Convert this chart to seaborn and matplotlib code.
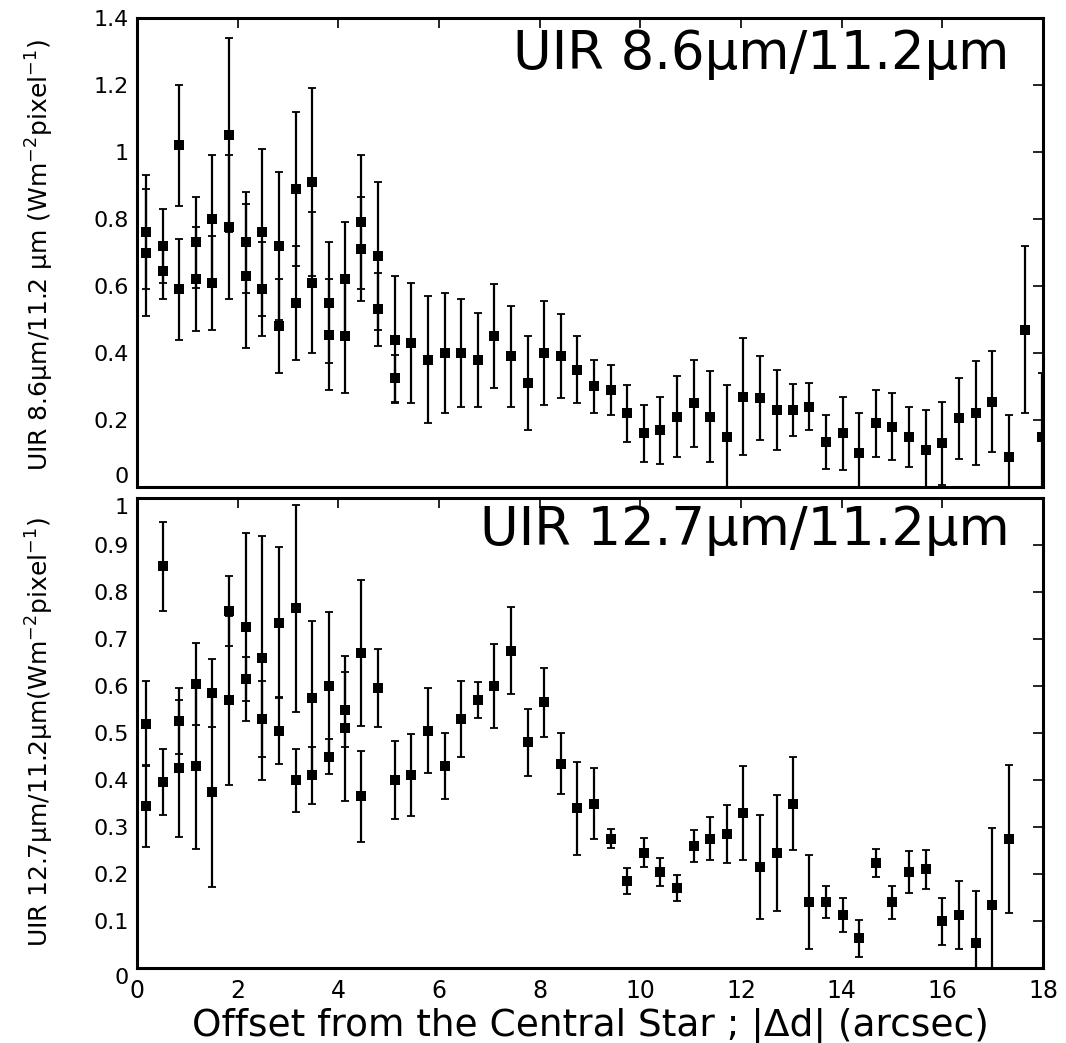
import matplotlib
matplotlib.use("Agg")
import matplotlib.pyplot as plt
import seaborn as sns
import pandas as pd

# Radial offsets from the central star (arcsec)
offsets = [0.18, 0.51, 0.84, 1.17, 1.50, 1.83, 2.16, 2.49, 2.82, 3.15,
           3.48, 3.81, 4.14, 4.46, 4.79, 5.12, 5.45, 5.78, 6.11, 6.44,
           6.77, 7.10, 7.43, 7.76, 8.09, 8.42, 8.75, 9.08, 9.41, 9.74,
           10.07, 10.40, 10.73, 11.06, 11.39, 11.72, 12.05, 12.38, 12.71, 13.03,
           13.36, 13.69, 14.02, 14.35, 14.68, 15.01, 15.34, 15.67, 16.00, 16.33,
           16.66, 16.99, 17.32, 17.65, 17.98]

# UIR 8.6/11.2 ratio, first side (all offsets)
r86_a = [0.76, 0.72, 1.02, 0.73, 0.80, 1.05, 0.73, 0.76, 0.72, 0.89,
         0.91, 0.55, 0.62, 0.79, 0.69, 0.44, 0.43, 0.38, 0.40, 0.40,
         0.38, 0.45, 0.39, 0.31, 0.40, 0.39, 0.35, 0.30, 0.29, 0.22,
         0.16, 0.17, 0.21, 0.25, 0.21, 0.15, 0.27, 0.265, 0.23, 0.23,
         0.24, 0.135, 0.16, 0.10, 0.19, 0.18, 0.15, 0.11, 0.13, 0.205,
         0.22, 0.255, 0.09, 0.47, 0.15]
e86_a = [0.17, 0.11, 0.18, 0.135, 0.19, 0.29, 0.15, 0.25, 0.22, 0.23,
         0.28, 0.18, 0.17, 0.20, 0.22, 0.19, 0.18, 0.19, 0.18, 0.16,
         0.14, 0.155, 0.15, 0.14, 0.155, 0.125, 0.10, 0.08, 0.075, 0.085,
         0.085, 0.10, 0.12, 0.13, 0.135, 0.155, 0.175, 0.125, 0.12, 0.077,
         0.07, 0.08, 0.11, 0.12, 0.10, 0.10, 0.09, 0.12, 0.125, 0.12,
         0.155, 0.15, 0.125, 0.25, 0.19]

# UIR 8.6/11.2 ratio, opposite side (inner offsets only)
r86_b = [0.70, 0.645, 0.59, 0.62, 0.61, 0.775, 0.63, 0.59, 0.48, 0.55,
         0.61, 0.455, 0.45, 0.71, 0.53, 0.325]
e86_b = [0.19, 0.085, 0.15, 0.155, 0.14, 0.215, 0.215, 0.14, 0.14, 0.17,
         0.21, 0.165, 0.17, 0.155, 0.11, 0.07]

# UIR 12.7/11.2 ratio, first side
r127_a = [0.52, 0.855, 0.525, 0.605, 0.585, 0.76, 0.725, 0.66, 0.735, 0.765,
          0.575, 0.60, 0.55, 0.67, 0.595, 0.40, 0.41, 0.505, 0.43, 0.53,
          0.57, 0.60, 0.675, 0.48, 0.565, 0.435, 0.34, 0.35, 0.275, 0.185,
          0.245, 0.205, 0.17, 0.26, 0.275, 0.285, 0.33, 0.215, 0.245, 0.35,
          0.14, 0.14, 0.113, 0.063, 0.223, 0.14, 0.205, 0.21, 0.10, 0.113,
          0.053, 0.135, 0.275]
e127_a = [0.09, 0.095, 0.07, 0.087, 0.073, 0.074, 0.20, 0.26, 0.16, 0.22,
          0.164, 0.157, 0.08, 0.156, 0.083, 0.082, 0.087, 0.09, 0.07, 0.08,
          0.038, 0.09, 0.093, 0.071, 0.073, 0.065, 0.099, 0.075, 0.02, 0.028,
          0.031, 0.03, 0.028, 0.034, 0.046, 0.062, 0.10, 0.11, 0.123, 0.098,
          0.10, 0.034, 0.037, 0.039, 0.03, 0.035, 0.045, 0.042, 0.05, 0.073,
          0.11, 0.162, 0.157]

# UIR 12.7/11.2 ratio, opposite side
r127_b = [0.345, 0.395, 0.425, 0.43, 0.375, 0.57, 0.615, 0.53, 0.505, 0.40,
          0.41, 0.45, 0.51, 0.365]
e127_b = [0.088, 0.07, 0.146, 0.177, 0.203, 0.18, 0.046, 0.08, 0.071, 0.067,
          0.06, 0.037, 0.154, 0.096]

yticks_86 = [0, 0.2, 0.4, 0.6, 0.8, 1.0, 1.2, 1.4]
ylabels_86 = ["0", "0.2", "0.4", "0.6", "0.8", "1", "1.2", "1.4"]
yticks_127 = [0, 0.1, 0.2, 0.3, 0.4, 0.5, 0.6, 0.7, 0.8, 0.9, 1.0]
ylabels_127 = ["0", "0.1", "0.2", "0.3", "0.4", "0.5", "0.6", "0.7", "0.8", "0.9", "1"]
xticks = [0, 2, 4, 6, 8, 10, 12, 14, 16, 18]


def build_frame(vals_a, errs_a, vals_b, errs_b):
    a = pd.DataFrame({"offset": offsets[:len(vals_a)], "ratio": vals_a,
                      "err": errs_a, "side": "a"})
    b = pd.DataFrame({"offset": offsets[:len(vals_b)], "ratio": vals_b,
                      "err": errs_b, "side": "b"})
    return pd.concat([a, b], ignore_index=True)


df86 = build_frame(r86_a, e86_a, r86_b, e86_b)
df127 = build_frame(r127_a, e127_a, r127_b, e127_b)

sns.set_theme(style="white")
plt.rcParams["font.family"] = ["DejaVu Sans"]
plt.rcParams["mathtext.fontset"] = "dejavusans"
plt.rcParams["mathtext.default"] = "regular"

fig = plt.figure(figsize=(10.66, 10.43), dpi=100)
ax_top = fig.add_axes([0.1285, 0.5331, 0.8499, 0.4496])
ax_bot = fig.add_axes([0.1285, 0.0719, 0.8499, 0.4506])


def draw_panel(ax, df, ymax, yticks, ylabels, title, ylabel, pos):
    ax.errorbar(df["offset"], df["ratio"], yerr=df["err"], fmt="none",
                ecolor="black", elinewidth=1.6, capsize=3.2, capthick=1.3,
                zorder=2)
    sns.scatterplot(data=df, x="offset", y="ratio", marker="s", color="black",
                    s=42, linewidth=0, legend=False, ax=ax, zorder=3)
    ax.set_xlim(0, 18)
    ax.set_ylim(0, ymax)
    ax.set_xticks(xticks)
    ax.set_yticks(yticks)
    ax.set_yticklabels(ylabels)
    ax.set_xlabel("")
    ax.set_ylabel("")
    for sp in ax.spines.values():
        sp.set_visible(True)
        sp.set_linewidth(2.2)
        sp.set_color("black")
    ax.tick_params(direction="in", top=True, right=True, length=7, width=1.2,
                   color="black", labelcolor="black")
    ax.tick_params(axis="y", labelsize=16, pad=6)
    ax.tick_params(axis="x", labelsize=17, pad=8)
    ax.text(0.963, pos[0], title, transform=ax.transAxes, ha="right",
            va="center", fontsize=38, color="black")
    fig.text(40 / 1066, pos[1], ylabel, rotation=90, ha="center",
             va="center", fontsize=18, color="black")


draw_panel(ax_top, df86, 1.4, yticks_86, ylabels_86,
           "UIR 8.6\u03bcm/11.2\u03bcm",
           "UIR 8.6\u03bcm/11.2 \u03bcm (Wm$^{-2}$pixel$^{-1}$)", (0.923, 0.7555))
draw_panel(ax_bot, df127, 1.0, yticks_127, ylabels_127,
           "UIR 12.7\u03bcm/11.2\u03bcm",
           "UIR 12.7\u03bcm/11.2\u03bcm(Wm$^{-2}$pixel$^{-1}$)", (0.932, 0.298))

# keep the adjoining "0" and "1" labels at the panel seam apart
ax_top.get_yticklabels()[0].set_va("bottom")
ax_bot.get_yticklabels()[-1].set_va("top")
ax_bot.get_yticklabels()[0].set_va("top")

ax_top.tick_params(axis="x", labelbottom=False)
ax_bot.set_xlabel("Offset from the Central Star ; |\u0394d| (arcsec)",
                  fontsize=27, labelpad=3, color="black")

fig.savefig("out.png", dpi=100, facecolor="white")
